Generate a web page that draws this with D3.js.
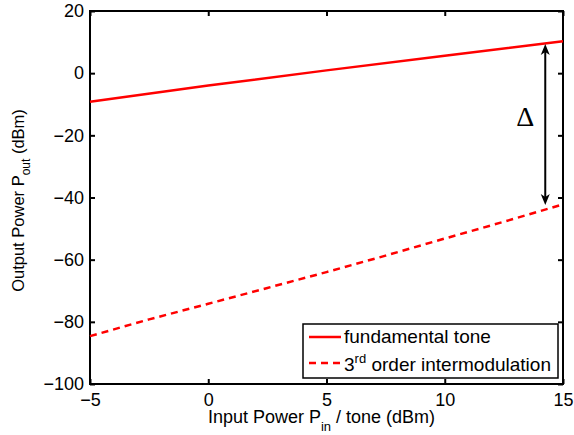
<!DOCTYPE html>
<html>
<head>
<meta charset="utf-8">
<script src="https://cdn.jsdelivr.net/npm/d3@7"></script>
<style>
  body { margin: 0; background: #fff; }
  text { font-family: "Liberation Sans", Arial, Helvetica, sans-serif; }
</style>
</head>
<body>
<div id="chart"></div>
<script>
// values
const pinFund = [-5, 0, 5, 10, 15];
const fundamental = [-9.2, -4.0, 0.9, 5.6, 10.3];
const pinIM3 = [-5, -2.5, 0, 2.5, 5, 7.5, 10, 12.5, 15];
const intermod3 = [-84.6, -79.2, -74.2, -69.1, -64.0, -58.7, -53.2, -47.8, -42.2];
const xTicks = [-5, 0, 5, 10, 15];
const yTicks = [-100, -80, -60, -40, -20, 0, 20];
const deltaX = 14.25;
const deltaRange = [9.4, -42.4];

(function() {
    const width = 574;
    const height = 435;
    const margin = { top: 11, right: 11, bottom: 51, left: 90 };
    const red = "#ff0000";

    const x = d3.scaleLinear().domain([-5, 15]).range([margin.left, width - margin.right]);
    const y = d3.scaleLinear().domain([-100, 20]).range([height - margin.bottom, margin.top]);

    const svg = d3.select("#chart")
        .append("svg")
        .attr("width", width)
        .attr("height", height);

    const fmt = d3.format("");

    // axes with inward ticks on all four sides
    svg.append("g")
        .attr("transform", `translate(0,${y(-100)})`)
        .call(d3.axisBottom(x).tickValues(xTicks).tickFormat(fmt).tickSizeInner(-5).tickSizeOuter(0).tickPadding(9))
        .call(g => g.select(".domain").remove());
    svg.append("g")
        .attr("transform", `translate(0,${y(20)})`)
        .call(d3.axisTop(x).tickValues(xTicks).tickFormat("").tickSizeInner(-5).tickSizeOuter(0))
        .call(g => g.select(".domain").remove());
    svg.append("g")
        .attr("transform", `translate(${x(-5)},0)`)
        .call(d3.axisLeft(y).tickValues(yTicks).tickFormat(fmt).tickSizeInner(-5).tickSizeOuter(0).tickPadding(6))
        .call(g => g.select(".domain").remove());
    svg.append("g")
        .attr("transform", `translate(${x(15)},0)`)
        .call(d3.axisRight(y).tickValues(yTicks).tickFormat("").tickSizeInner(-5).tickSizeOuter(0))
        .call(g => g.select(".domain").remove());

    svg.selectAll(".tick line").attr("stroke", "#000").attr("stroke-width", 2);
    svg.selectAll(".tick text").attr("font-size", 18).attr("fill", "#000")
        .attr("font-family", "'Liberation Sans', Arial, sans-serif");

    // frame
    svg.append("rect")
        .attr("x", x(-5))
        .attr("y", y(20))
        .attr("width", x(15) - x(-5))
        .attr("height", y(-100) - y(20))
        .attr("fill", "none")
        .attr("stroke", "#000")
        .attr("stroke-width", 2);

    const line = d3.line().x(d => x(d[0])).y(d => y(d[1]));

    svg.append("path")
        .datum(pinFund.map((p, i) => [p, fundamental[i]]))
        .attr("d", line)
        .attr("fill", "none")
        .attr("stroke", red)
        .attr("stroke-width", 2.5);

    svg.append("path")
        .datum(pinIM3.map((p, i) => [p, intermod3[i]]))
        .attr("d", line)
        .attr("fill", "none")
        .attr("stroke", red)
        .attr("stroke-width", 2.5)
        .attr("stroke-dasharray", "7,5");

    // delta arrow
    const ax = x(deltaX);
    const ay1 = y(deltaRange[0]);
    const ay2 = y(deltaRange[1]);
    const headL = 11, headW = 4.5;
    svg.append("line")
        .attr("x1", ax).attr("x2", ax)
        .attr("y1", ay1 + 4).attr("y2", ay2 - 4)
        .attr("stroke", "#000")
        .attr("stroke-width", 2);
    svg.append("path")
        .attr("d", `M${ax},${ay1}L${ax - headW},${ay1 + headL}L${ax},${ay1 + headL - 3}L${ax + headW},${ay1 + headL}Z`)
        .attr("fill", "#000");
    svg.append("path")
        .attr("d", `M${ax},${ay2}L${ax - headW},${ay2 - headL}L${ax},${ay2 - headL + 3}L${ax + headW},${ay2 - headL}Z`)
        .attr("fill", "#000");
    svg.append("text")
        .attr("x", ax - 20)
        .attr("y", (ay1 + ay2) / 2 - 8)
        .attr("text-anchor", "middle")
        .attr("dominant-baseline", "central")
        .style("font-family", "'Liberation Serif', 'Times New Roman', serif")
        .attr("font-size", 28)
        .text("Δ");

    // axis titles
    const xt = svg.append("text")
        .attr("x", (x(-5) + x(15)) / 2 - 5)
        .attr("y", 423)
        .attr("text-anchor", "middle")
        .attr("font-size", 18);
    xt.append("tspan").text("Input Power P");
    xt.append("tspan").attr("font-size", 13).attr("dy", 8).text("in");
    xt.append("tspan").attr("dy", -8).text(" / tone (dBm)");

    const yt = svg.append("text")
        .attr("transform", `translate(24,${(y(-100) + y(20)) / 2 + 3}) rotate(-90)`)
        .attr("text-anchor", "middle")
        .attr("font-size", 16.5);
    yt.append("tspan").text("Output Power P");
    yt.append("tspan").attr("font-size", 12).attr("dy", 6).text("out");
    yt.append("tspan").attr("dy", -6).text(" (dBm)");

    // legend
    const lg = svg.append("g");
    lg.append("rect")
        .attr("x", 303).attr("y", 324)
        .attr("width", 255).attr("height", 54)
        .attr("fill", "#fff")
        .attr("stroke", "#000")
        .attr("stroke-width", 1.5);
    lg.append("line")
        .attr("x1", 309).attr("x2", 341).attr("y1", 337).attr("y2", 337)
        .attr("stroke", red).attr("stroke-width", 2.5);
    lg.append("line")
        .attr("x1", 309).attr("x2", 341).attr("y1", 363).attr("y2", 363)
        .attr("stroke", red).attr("stroke-width", 2.5)
        .attr("stroke-dasharray", "7,5");
    lg.append("text")
        .attr("x", 344).attr("y", 343)
        .attr("font-size", 19)
        .text("fundamental tone");
    const l2 = lg.append("text")
        .attr("x", 344).attr("y", 371)
        .attr("font-size", 19);
    l2.append("tspan").text("3");
    l2.append("tspan").attr("font-size", 13).attr("dy", -8).text("rd");
    l2.append("tspan").attr("dy", 8).text(" order intermodulation");
})();
</script>
</body>
</html>
